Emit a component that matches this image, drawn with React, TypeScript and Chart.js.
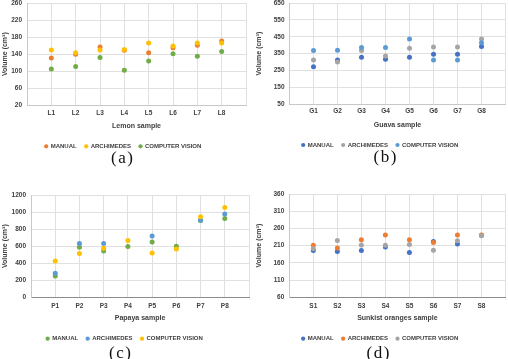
import React, { useEffect, useRef } from 'react';
import { Chart, registerables } from 'chart.js';

Chart.register(...registerables);

const FONT = "'Liberation Sans', Arial, sans-serif";
const seriesNames = ['MANUAL', 'ARCHIMEDES', 'COMPUTER VISION'];

// (a) Lemon
const lemonSamples = ['L1', 'L2', 'L3', 'L4', 'L5', 'L6', 'L7', 'L8'];
const lemonManual = [131, 140, 157, 149, 143, 155, 161, 171];
const lemonArchimedes = [150, 143, 150, 151, 166, 159, 166, 166];
const lemonCV = [105, 111, 132, 102, 124, 141, 135, 146];
const lemonTicks = [20, 260, 40];

// (b) Guava
const guavaSamples = ['G1', 'G2', 'G3', 'G4', 'G5', 'G6', 'G7', 'G8'];
const guavaManual = [273, 313, 328, 317, 328, 346, 346, 393];
const guavaArchimedes = [313, 301, 368, 336, 382, 390, 390, 437];
const guavaCV = [368, 370, 386, 386, 437, 313, 313, 415];
const guavaTicks = [50, 650, 100];

// (c) Papaya
const papayaSamples = ['P1', 'P2', 'P3', 'P4', 'P5', 'P6', 'P7', 'P8'];
const papayaManual = [251, 587, 544, 595, 649, 598, 900, 923];
const papayaArchimedes = [282, 630, 630, null, 720, null, 905, 977];
const papayaCV = [427, 513, 575, 665, 520, 567, 945, 1052];
const papayaTicks = [0, 1200, 200];

// (d) Sunkist oranges
const sunkistSamples = ['S1', 'S2', 'S3', 'S4', 'S5', 'S6', 'S7', 'S8'];
const sunkistManual = [196, 193, 196, 206, 190, 222, 215, 240];
const sunkistArchimedes = [211, 203, 227, 241, 227, 219, 241, 241];
const sunkistCV = [201, 225, 212, 211, 213, 197, 224, 239];
const sunkistTicks = [60, 360, 50];

type PanelCfg = {
  left: number;
  top: number;
  width: number;
  areaTop: number;
  areaBottom: number;
  areaLeft: number;
  areaRight: number;
  tickOffset: number;
  titleOffset: number;
  legendOffset: number;
  xTitle: string;
  samples: string[];
  series: (number | null)[][];
  colors: string[];
  yTicks: number[];
  bottomBorder: string;
  caption: string;
  captionX: number;
  captionY: number;
};

const panels: PanelCfg[] = [
  {
    left: 0, top: 0, width: 254,
    areaTop: 3, areaBottom: 105.3, areaLeft: 27, areaRight: 246,
    tickOffset: 8, titleOffset: 21, legendOffset: 41,
    xTitle: 'Lemon sample', samples: lemonSamples,
    series: [lemonManual, lemonArchimedes, lemonCV],
    colors: ['#ED7D31', '#FFC000', '#70AD47'],
    yTicks: lemonTicks, bottomBorder: '#c8c8c8',
    caption: '(a)', captionX: 122, captionY: 158,
  },
  {
    left: 254, top: 0, width: 254,
    areaTop: 3, areaBottom: 104.3, areaLeft: 35.5, areaRight: 252,
    tickOffset: 6.9, titleOffset: 21, legendOffset: 40.7,
    xTitle: 'Guava sample', samples: guavaSamples,
    series: [guavaManual, guavaArchimedes, guavaCV],
    colors: ['#4472C4', '#A5A5A5', '#5B9BD5'],
    yTicks: guavaTicks, bottomBorder: '#c8c8c8',
    caption: '(b)', captionX: 385, captionY: 157,
  },
  {
    left: 0, top: 180, width: 254,
    areaTop: 15, areaBottom: 117.3, areaLeft: 31, areaRight: 249,
    tickOffset: 9.2, titleOffset: 21, legendOffset: 41.4,
    xTitle: 'Papaya sample', samples: papayaSamples,
    series: [papayaManual, papayaArchimedes, papayaCV],
    colors: ['#70AD47', '#5B9BD5', '#FFC000'],
    yTicks: papayaTicks, bottomBorder: '#8c8c8c',
    caption: '(c)', captionX: 120, captionY: 352.5,
  },
  {
    left: 254, top: 180, width: 254,
    areaTop: 14, areaBottom: 117.3, areaLeft: 35.3, areaRight: 252,
    tickOffset: 8.7, titleOffset: 21, legendOffset: 41.4,
    xTitle: 'Sunkist oranges sample', samples: sunkistSamples,
    series: [sunkistManual, sunkistArchimedes, sunkistCV],
    colors: ['#4472C4', '#ED7D31', '#A5A5A5'],
    yTicks: sunkistTicks, bottomBorder: '#8c8c8c',
    caption: '(d)', captionX: 378, captionY: 352.5,
  },
];

const LEGEND_FONT = 6;
const LEGEND_PAD = 8;
const TICK_FONT = 6.5;
const TITLE_FONT = 7;

function Panel({ cfg }: { cfg: PanelCfg }) {
  const ref = useRef<HTMLCanvasElement>(null);
  const legendH = LEGEND_FONT + LEGEND_PAD + 10;
  const legendTop = cfg.areaBottom + cfg.legendOffset - LEGEND_PAD - LEGEND_FONT / 2;
  const rawH = legendTop + legendH;
  const H = Math.ceil(rawH);

  useEffect(() => {
    if (!ref.current) return;
    const xHeight = legendTop - cfg.areaBottom;
    const tickLH = TICK_FONT * 1.2;
    const titleLH = TITLE_FONT * 1.2;
    const datasets = cfg.series.map((vals, si) => ({
      label: seriesNames[si],
      data: vals.map((v, i) => ({ x: i + 1, y: v })),
      backgroundColor: cfg.colors[si],
      borderColor: cfg.colors[si],
      borderWidth: 0,
      pointRadius: 2.5,
      pointHoverRadius: 2.5,
      pointStyle: 'circle',
      showLine: false,
      order: 2 - si,
    }));
    const chart = new Chart(ref.current, {
      type: 'scatter',
      data: { datasets },
      options: {
        animation: false,
        responsive: false,
        devicePixelRatio: 1,
        layout: {
          padding: {
            top: cfg.areaTop,
            left: 0,
            right: cfg.width - cfg.areaRight,
            bottom: H - rawH,
          },
        },
        plugins: {
          tooltip: { enabled: false },
          legend: {
            position: 'bottom',
            labels: {
              usePointStyle: true,
              pointStyle: 'circle',
              boxWidth: 3,
              boxHeight: 3,
              padding: LEGEND_PAD,
              color: '#404040',
              font: { family: FONT, size: LEGEND_FONT, weight: 'bold' },
              sort: (a: any, b: any) => a.datasetIndex - b.datasetIndex,
            },
          },
        },
        scales: {
          x: {
            type: 'linear',
            min: 0,
            max: cfg.samples.length + 1,
            afterBuildTicks: (scale: any) => {
              scale.ticks = Array.from({ length: cfg.samples.length + 2 }, (_, i) => ({ value: i }));
            },
            afterFit: (scale: any) => {
              scale.height = xHeight;
              scale.paddingLeft = 0;
              scale.paddingRight = 0;
            },
            ticks: {
              autoSkip: false,
              maxRotation: 0,
              padding: cfg.tickOffset - tickLH / 2,
              color: '#404040',
              font: { family: FONT, size: TICK_FONT, weight: 'bold' },
              callback: (v: any) => {
                const i = Number(v);
                return i >= 1 && i <= cfg.samples.length ? cfg.samples[i - 1] : '';
              },
            },
            grid: { color: '#e0e0e0', drawTicks: false, lineWidth: 1 },
            border: { display: true, color: cfg.bottomBorder, width: 1 },
            title: {
              display: true,
              text: cfg.xTitle,
              color: '#404040',
              font: { family: FONT, size: TITLE_FONT, weight: 'bold' },
              padding: { top: 0, bottom: xHeight - cfg.titleOffset - titleLH / 2 },
            },
          },
          y: {
            type: 'linear',
            min: cfg.yTicks[0],
            max: cfg.yTicks[1],
            afterFit: (scale: any) => {
              scale.width = cfg.areaLeft;
              scale.paddingTop = 0;
              scale.paddingBottom = 0;
            },
            ticks: {
              stepSize: cfg.yTicks[2],
              padding: 5,
              color: '#404040',
              font: { family: FONT, size: TICK_FONT, weight: 'bold' },
              callback: (v: any) => String(v),
            },
            grid: { color: '#e0e0e0', drawTicks: false, lineWidth: 1 },
            border: { display: true, color: '#c8c8c8', width: 1 },
            title: {
              display: true,
              text: 'Volume (cm³)',
              color: '#404040',
              font: { family: FONT, size: TITLE_FONT, weight: 'bold' },
              padding: { top: 0.6, bottom: 0 },
            },
          },
        },
      } as any,
    });
    return () => chart.destroy();
  }, [cfg]);

  return (
    <>
      <canvas
        ref={ref}
        width={cfg.width}
        height={H}
        style={{ position: 'absolute', left: cfg.left, top: cfg.top, width: cfg.width, height: H }}
      />
      <div
        style={{
          position: 'absolute',
          left: cfg.captionX - 40,
          top: cfg.captionY - 10,
          width: 80,
          height: 20,
          lineHeight: '20px',
          textAlign: 'center',
          fontFamily: "'Liberation Serif', 'Times New Roman', serif",
          fontSize: 17,
          letterSpacing: '1.5px',
          paddingLeft: 1.5,
          boxSizing: 'border-box',
          color: '#111',
          zIndex: 2,
        }}
      >
        {cfg.caption}
      </div>
    </>
  );
}

export default function App() {
  return (
    <div
      style={{
        position: 'absolute',
        left: 0,
        top: 0,
        width: 508,
        height: 359,
        background: '#fff',
        overflow: 'hidden',
      }}
    >
      {panels.map((p) => (
        <Panel key={p.caption} cfg={p} />
      ))}
    </div>
  );
}
